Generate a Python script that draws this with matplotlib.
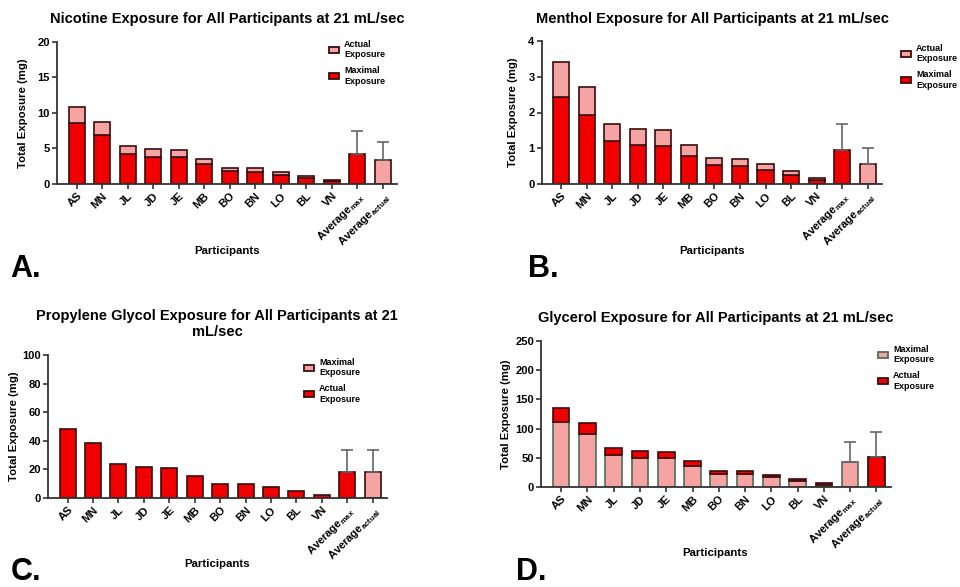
import matplotlib
matplotlib.use("Agg")
import matplotlib.pyplot as plt
from matplotlib.patches import Patch
import numpy as np

plt.rcParams['font.family'] = ['Liberation Sans', 'DejaVu Sans']
plt.rcParams['font.weight'] = 'bold'
plt.rcParams['mathtext.default'] = 'regular'

participants = ["AS", "MN", "JL", "JD", "JE", "MB", "BO", "BN", "LO", "BL", "VN"]
tick_labels = participants + ["Average$_{max}$", "Average$_{actual}$"]

# Nicotine (mg)
nic_max = [8.6, 6.9, 4.2, 3.8, 3.8, 2.8, 1.8, 1.7, 1.3, 0.85, 0.4]
nic_total = [10.8, 8.7, 5.3, 4.9, 4.8, 3.5, 2.3, 2.2, 1.7, 1.1, 0.6]
nic_avg = [4.17, 3.33]
nic_avg_err = [3.31, 2.61]

# Menthol (mg)
men_max = [2.42, 1.93, 1.19, 1.09, 1.06, 0.78, 0.52, 0.50, 0.38, 0.24, 0.12]
men_total = [3.40, 2.72, 1.68, 1.54, 1.50, 1.10, 0.73, 0.71, 0.55, 0.36, 0.18]
men_avg = [0.945, 0.56]
men_avg_err = [0.72, 0.45]

# Propylene glycol (mg)
pg_actual = [48.0, 38.5, 23.5, 21.5, 21.0, 15.5, 10.0, 9.7, 7.5, 5.0, 2.2]
pg_avg = [18.5, 18.5]
pg_avg_err = [14.8, 14.8]

# Glycerol (mg)
gly_max = [112, 90, 55, 50, 49, 36, 23, 22, 17, 10, 4]
gly_total = [136, 109, 67, 61, 60, 44, 28, 27, 21, 14, 6]
gly_avg = [42.8, 51.9]
gly_avg_err = [34.8, 41.7]

RED = '#f20000'
PINK = '#f5a3a3'
EDGE = '#3a0c0c'
GEDGE = '#4f6e58'
ERR = '#666666'

W, H = 960, 587
fig = plt.figure(figsize=(W / 100, H / 100), dpi=100)


def ax_at(l, r, t, b):
    return fig.add_axes([l / W, 1 - b / H, (r - l) / W, (b - t) / H])


def style(ax, ymax, step, ylabel_x):
    ax.set_ylim(0, ymax)
    ax.set_yticks(np.arange(0, ymax + step / 2, step))
    ax.set_xlim(-0.77, 12.56)
    ax.set_xticks(np.arange(13))
    ax.set_xticklabels(tick_labels, rotation=45, ha='right', rotation_mode='anchor',
                       fontsize=8, fontweight='bold')
    for lab in ax.get_yticklabels():
        lab.set_fontsize(8)
        lab.set_fontweight('bold')
    for s in ['top', 'right']:
        ax.spines[s].set_visible(False)
    for s in ['left', 'bottom']:
        ax.spines[s].set_linewidth(1.3)
        ax.spines[s].set_color('#333333')
    ax.tick_params(axis='both', direction='out', length=3.5, width=1.2, color='#333333', pad=1.5)
    ax.set_ylabel("Total Exposure (mg)", fontsize=8.2, fontweight='bold')
    ax.yaxis.set_label_coords(ylabel_x, 0.5)


def legend(ax, entries, x, y):
    handles = [Patch(facecolor=fc, edgecolor=ec, linewidth=1.3) for fc, ec, _ in entries]
    labels = [lab for _, _, lab in entries]
    ax.legend(handles, labels, loc='upper left', bbox_to_anchor=(x / W, 1 - y / H),
              bbox_transform=fig.transFigure, frameon=False, fontsize=6.5,
              handlelength=1.1, handleheight=0.6, handletextpad=0.55, labelspacing=0.75,
              borderaxespad=0, borderpad=0)


idx = np.arange(len(participants))
bw = 0.63
ekw = dict(elinewidth=1.2, capthick=1.2)

# ---------- A: Nicotine ----------
axA = ax_at(57, 397, 41.5, 184)
nic_top = np.array(nic_total) - np.array(nic_max)
axA.bar(idx, nic_max, bw, color=RED, edgecolor=EDGE, linewidth=1.2)
axA.bar(idx, nic_top, bw, bottom=nic_max, color=PINK, edgecolor=EDGE, linewidth=1.2)
axA.bar([11], [nic_avg[0]], bw, color=RED, edgecolor=EDGE, linewidth=1.2,
        yerr=[[0], [nic_avg_err[0]]], ecolor=ERR, capsize=4, error_kw=ekw)
axA.bar([12], [nic_avg[1]], bw, color=PINK, edgecolor=EDGE, linewidth=1.2,
        yerr=[[0], [nic_avg_err[1]]], ecolor=ERR, capsize=4, error_kw=ekw)
style(axA, 20, 5, -0.085)
legend(axA, [(PINK, EDGE, "Actual\nExposure"), (RED, EDGE, "Maximal\nExposure")], 329, 40)

# ---------- B: Menthol ----------
axB = ax_at(541.5, 882, 41, 184)
men_top = np.array(men_total) - np.array(men_max)
axB.bar(idx, men_max, bw, color=RED, edgecolor=EDGE, linewidth=1.2)
axB.bar(idx, men_top, bw, bottom=men_max, color=PINK, edgecolor=EDGE, linewidth=1.2)
axB.bar([11], [men_avg[0]], bw, color=RED, edgecolor=EDGE, linewidth=1.2,
        yerr=[[0], [men_avg_err[0]]], ecolor=ERR, capsize=4, error_kw=ekw)
axB.bar([12], [men_avg[1]], bw, color=PINK, edgecolor=EDGE, linewidth=1.2,
        yerr=[[0], [men_avg_err[1]]], ecolor=ERR, capsize=4, error_kw=ekw)
style(axB, 4, 1, -0.07)
legend(axB, [(PINK, EDGE, "Actual\nExposure"), (RED, EDGE, "Maximal\nExposure")], 901, 44)

# ---------- C: Propylene glycol ----------
axC = ax_at(48, 387, 355, 498)
axC.bar(idx, pg_actual, bw, color=RED, edgecolor=EDGE, linewidth=1.2)
axC.bar([11], [pg_avg[0]], bw, color=RED, edgecolor=EDGE, linewidth=1.2,
        yerr=[[0], [pg_avg_err[0]]], ecolor=ERR, capsize=4, error_kw=ekw)
axC.bar([12], [pg_avg[1]], bw, color=PINK, edgecolor=EDGE, linewidth=1.2,
        yerr=[[0], [pg_avg_err[1]]], ecolor=ERR, capsize=4, error_kw=ekw)
style(axC, 100, 20, -0.085)
legend(axC, [(PINK, EDGE, "Maximal\nExposure"), (RED, EDGE, "Actual\nExposure")], 304, 358)

# ---------- D: Glycerol ----------
axD = ax_at(541, 891, 341, 487)
gly_top = np.array(gly_total) - np.array(gly_max)
axD.bar(idx, gly_max, bw, color=PINK, edgecolor=GEDGE, linewidth=1.2)
axD.bar(idx, gly_top, bw, bottom=gly_max, color=RED, edgecolor=EDGE, linewidth=1.2)
axD.bar([11], [gly_avg[0]], bw, color=PINK, edgecolor=GEDGE, linewidth=1.2,
        yerr=[[0], [gly_avg_err[0]]], ecolor=ERR, capsize=4, error_kw=ekw)
axD.bar([12], [gly_avg[1]], bw, color=RED, edgecolor='#1a0505', linewidth=1.2,
        yerr=[[0], [gly_avg_err[1]]], ecolor=ERR, capsize=4, error_kw=ekw)
style(axD, 250, 50, -0.085)
legend(axD, [(PINK, GEDGE, "Maximal\nExposure"), (RED, EDGE, "Actual\nExposure")], 878, 345)

# ---------- titles, labels, panel letters ----------
tkw = dict(fontsize=10.5, fontweight='bold', ha='center', va='center')
fig.text(227 / W, 1 - 18.5 / H, "Nicotine Exposure for All Participants at 21 mL/sec", **tkw)
fig.text(712 / W, 1 - 18.5 / H, "Menthol Exposure for All Participants at 21 mL/sec", **tkw)
fig.text(217 / W, 1 - 324 / H, "Propylene Glycol Exposure for All Participants at 21\nmL/sec",
         linespacing=1.15, **tkw)
fig.text(716 / W, 1 - 318 / H, "Glycerol Exposure for All Participants at 21 mL/sec", **tkw)

xkw = dict(fontsize=8.2, fontweight='bold', ha='center', va='center')
fig.text(227 / W, 1 - 251 / H, "Participants", **xkw)
fig.text(712 / W, 1 - 251 / H, "Participants", **xkw)
fig.text(217 / W, 1 - 564 / H, "Participants", **xkw)
fig.text(715 / W, 1 - 553 / H, "Participants", **xkw)

lkw = dict(fontsize=22, fontweight='bold', ha='left', va='baseline')
fig.text(10 / W, 1 - 277 / H, "A.", **lkw)
fig.text(528 / W, 1 - 277 / H, "B.", **lkw)
fig.text(11 / W, 1 - 580 / H, "C.", **lkw)
fig.text(516 / W, 1 - 580 / H, "D.", **lkw)

fig.savefig("out.png", dpi=100)
